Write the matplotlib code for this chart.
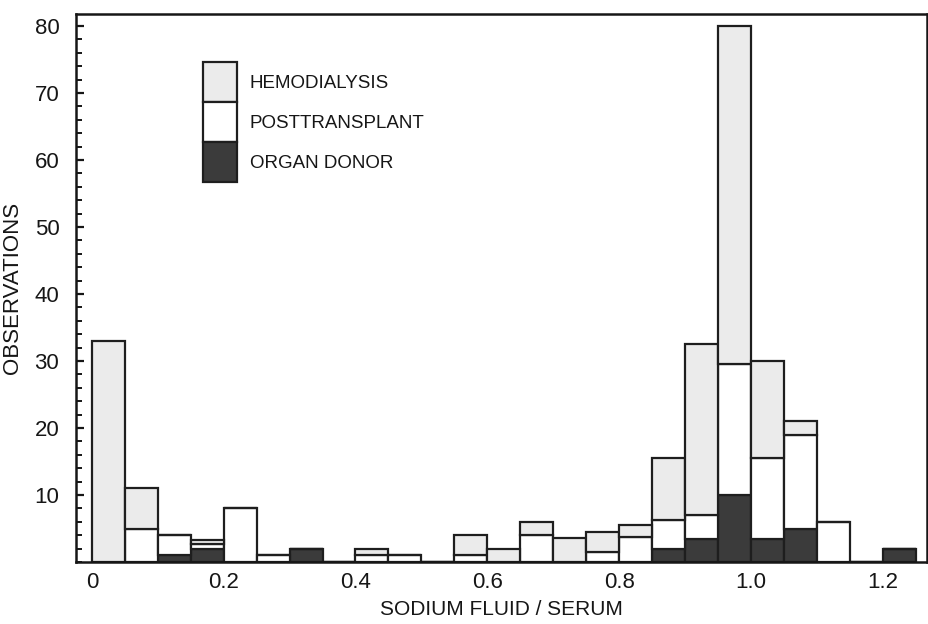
#!/usr/bin/env python

# Stacked histogram of sodium fluid/serum ratio for three patient groups.

import numpy as np
import matplotlib

matplotlib.use("Agg")
import matplotlib.pyplot as plt
from matplotlib.patches import Patch
from matplotlib.ticker import MultipleLocator

# Bins are 0.05 wide, left edges from 0.00 to 1.20
bin_width = 0.05
bin_left = np.round(np.arange(25) * bin_width, 2)

organ_donor = [0, 0, 1, 2, 0, 0, 2, 0, 0, 0, 0, 0, 0, 0, 0, 0, 0,
               2, 3.4, 10, 3.4, 5, 0, 0, 2]
posttransplant = [0, 5, 3, 0.7, 8, 1, 0, 0, 1, 1, 0, 1, 0, 4, 0, 1.5, 3.7,
                  4.3, 3.6, 19.5, 12.1, 14, 6, 0, 0]
hemodialysis = [33, 6, 0, 0.6, 0, 0, 0, 0, 1, 0, 0, 3, 2, 2, 3.6, 3, 1.8,
                9.2, 25.5, 50.5, 14.5, 2, 0, 0, 0]

x_ticks = [0, 0.2, 0.4, 0.6, 0.8, 1.0, 1.2]
x_ticklabels = ["0", "0.2", "0.4", "0.6", "0.8", "1.0", "1.2"]
y_ticks = [10, 20, 30, 40, 50, 60, 70, 80]

plt.rcParams["font.family"] = ["Liberation Sans", "DejaVu Sans"]

fig = plt.figure(figsize=(9.29, 6.24), dpi=100, facecolor="white")
ax = fig.add_axes([76 / 929, 62 / 624, 851 / 929, 548 / 624])

ink = "#161616"
edge = "#1e1e1e"
c_hemo = "#ebebeb"
c_post = "white"
c_donor = "#3b3b3b"
lw = 1.6

donor = np.array(organ_donor)
post = np.array(posttransplant)
hemo = np.array(hemodialysis)

ax.bar(bin_left, donor, width=bin_width, align="edge",
       color=c_donor, edgecolor=edge, linewidth=lw, zorder=2)
ax.bar(bin_left, post, width=bin_width, align="edge", bottom=donor,
       color=c_post, edgecolor=edge, linewidth=lw, zorder=2)
ax.bar(bin_left, hemo, width=bin_width, align="edge", bottom=donor + post,
       color=c_hemo, edgecolor=edge, linewidth=lw, zorder=2)

ax.set_xlim(-0.024, 1.267)
ax.set_ylim(0, 81.8)

ax.set_xticks(x_ticks)
ax.set_xticklabels(x_ticklabels)
ax.set_yticks(y_ticks)
ax.yaxis.set_minor_locator(MultipleLocator(2))
ax.tick_params(axis="x", length=0, pad=7, labelsize=16, colors=ink)
ax.tick_params(axis="y", which="major", direction="in", length=6, width=1.6,
               pad=12, labelsize=16, colors=ink)
ax.tick_params(axis="y", which="minor", direction="in", length=4, width=1.4,
               colors=ink)

for s in ax.spines.values():
    s.set_linewidth(1.8)
    s.set_color(ink)
    s.set_zorder(3)

ax.set_xlabel("SODIUM FLUID / SERUM", fontsize=15, labelpad=5, color=ink)
ax.set_ylabel("OBSERVATIONS", fontsize=16, labelpad=8, color=ink)

handles = [
    Patch(facecolor=c_hemo, edgecolor=edge, linewidth=lw, label="HEMODIALYSIS"),
    Patch(facecolor=c_post, edgecolor=edge, linewidth=lw, label="POSTTRANSPLANT"),
    Patch(facecolor=c_donor, edgecolor=edge, linewidth=lw, label="ORGAN DONOR"),
]
ax.legend(handles=handles, loc="upper left", bbox_to_anchor=(0.149, 0.912),
          frameon=False, fontsize=13.5, handlelength=1.85, handleheight=2.9,
          labelspacing=0.0, handletextpad=0.65, borderpad=0.0,
          borderaxespad=0.0, labelcolor=ink)

fig.savefig("out.png", dpi=100)
